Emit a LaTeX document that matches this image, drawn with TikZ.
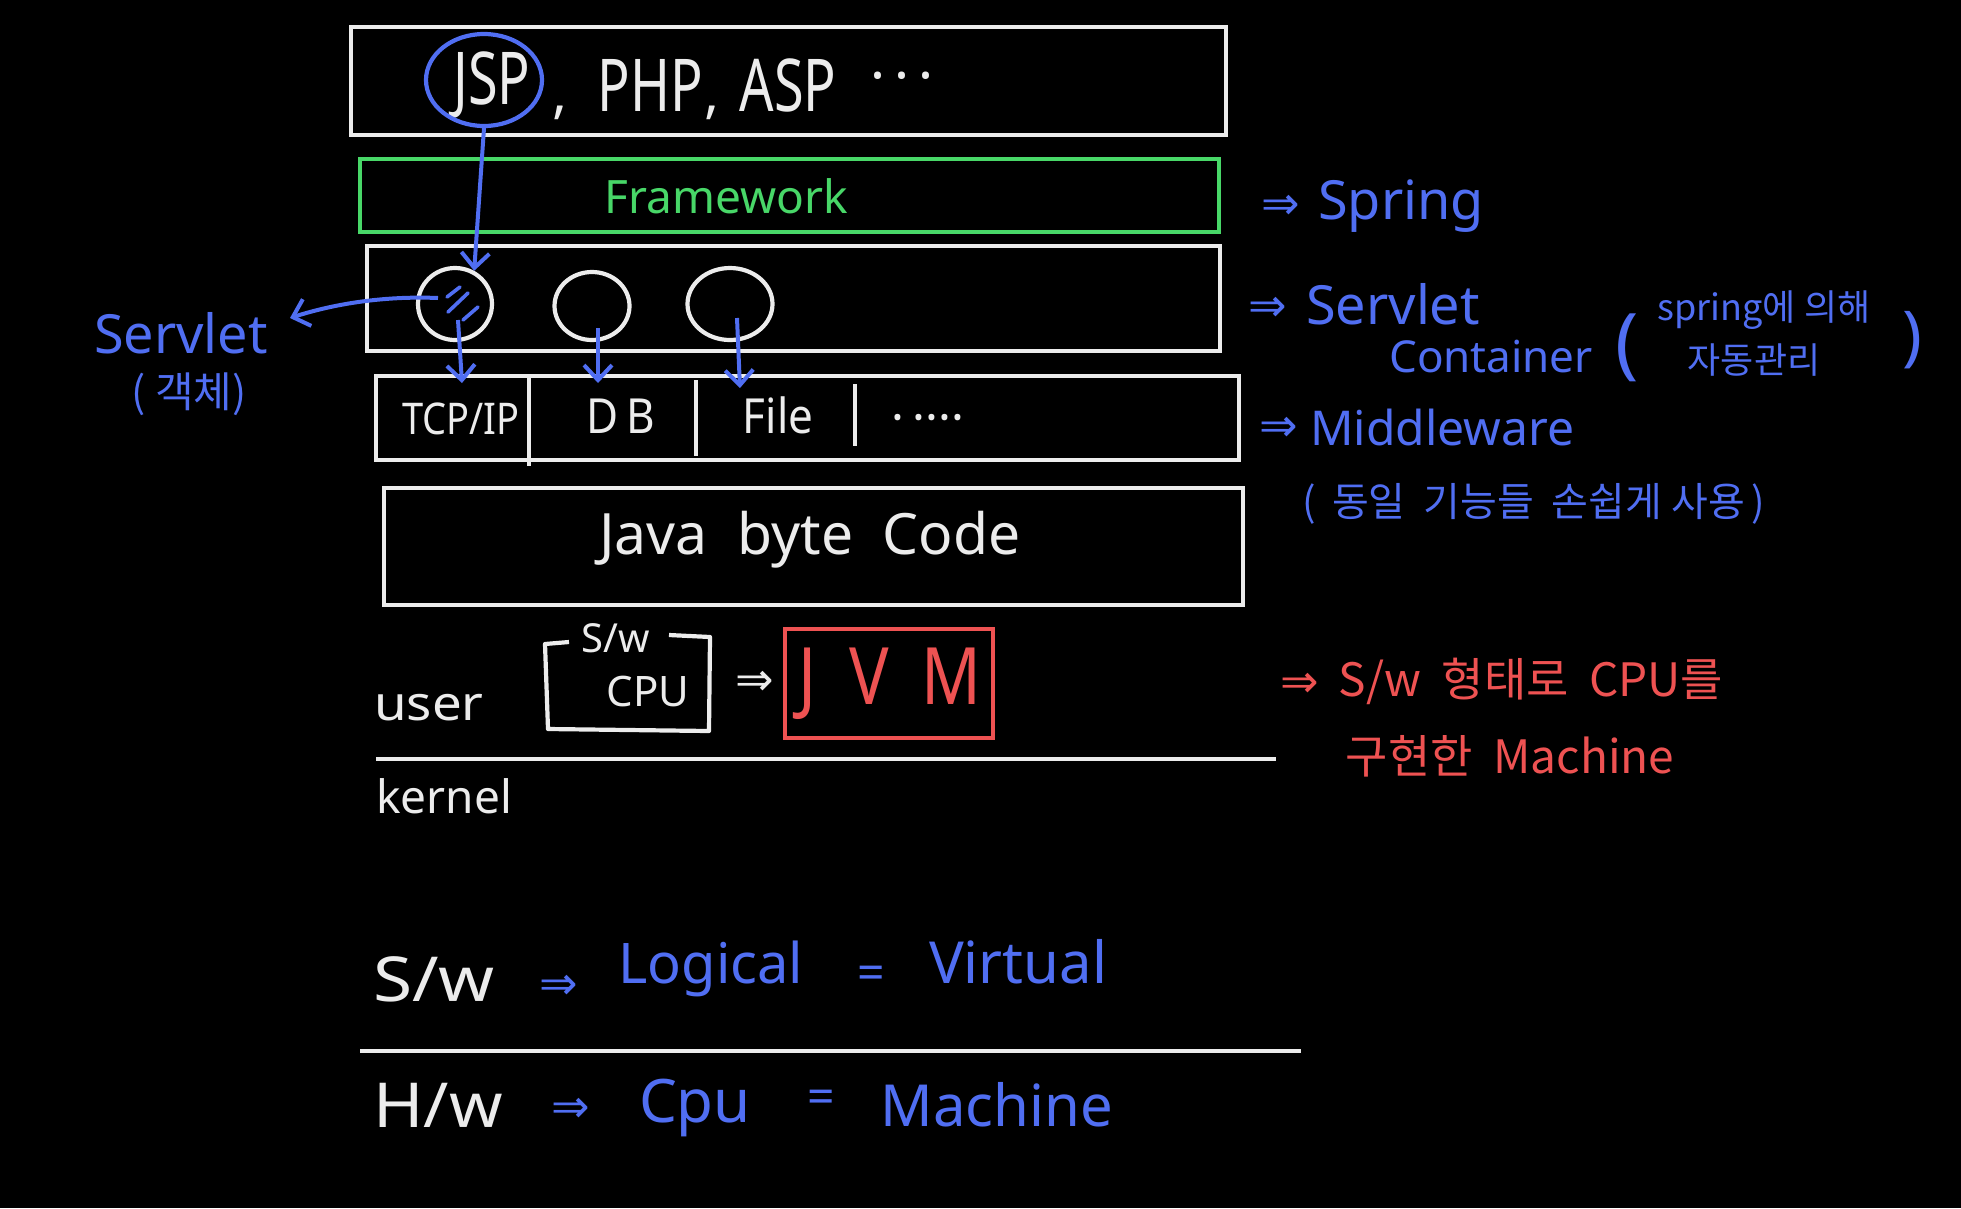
\documentclass[tikz,border=0pt]{standalone}
\usepackage{fontspec}
\setmainfont{Noto Sans}
\newfontfamily\kr{Noto Sans CJK KR}
\newfontfamily\djv{DejaVu Sans}
\usetikzlibrary{arrows.meta,shapes.geometric}
\definecolor{pblue}{RGB}{80,110,242}
\definecolor{pgreen}{RGB}{72,215,104}
\definecolor{pred}{RGB}{238,82,82}
\definecolor{pwhite}{RGB}{236,236,236}
\newcommand{\tall}[2][1.3]{\scalebox{1}[#1]{#2}}
\begin{document}
\begin{tikzpicture}[x=1pt,y=-1pt,
  box/.style={draw=pwhite,line width=4.4pt,inner sep=0pt},
  wt/.style={text=pwhite,inner sep=0pt},
  bt/.style={text=pblue,inner sep=0pt},
  rt/.style={text=pred,inner sep=0pt},
  gt/.style={text=pgreen,inner sep=0pt},
  fs/.style={font=\fontsize{#1}{#1}\selectfont},
  dbl/.style={inner sep=0pt,font=\djv\fontsize{#1}{#1}\selectfont},
  circ/.style={draw=pwhite,line width=4.2pt,ellipse,inner sep=0pt},
  wline/.style={draw=pwhite,line width=4.2pt},
  barrow/.style={draw=pblue,line width=4pt,-{Straight Barb[length=15pt,width=28pt,line width=4pt]}},
]
\fill[black] (0,0) rectangle (1961,1208);
\useasboundingbox (0,0) rectangle (1961,1208);

% layer boxes
\node[box,minimum width=875pt,minimum height=108pt] (top) at (788.5,81) {};
\node[box,draw=pgreen,minimum width=859pt,minimum height=73pt] (fw) at (789.5,195.5) {};
\node[box,minimum width=853pt,minimum height=105pt] (sc) at (793.5,298.5) {};
\node[box,minimum width=863pt,minimum height=84pt] (mw) at (807.5,418) {};
\node[box,minimum width=859pt,minimum height=117pt] (jb) at (813.5,546.5) {};

% top layer text
\node[wt,fs=54] (jsp) at (492,85) {\tall[1.35]{JSP}};
\node[wt,fs=56,anchor=base] (cm1) at (560,112) {,};
\node[wt,fs=54] (php) at (650,85) {\tall[1.35]{PHP}};
\node[wt,fs=56,anchor=base] (cm2) at (712,112) {,};
\node[wt,fs=54] (asp) at (788,85) {\tall[1.35]{ASP}};
\node[wt,fs=56] (dots) at (902,84) {·\,·\,·};
\node[circ,draw=pblue,minimum width=116pt,minimum height=92pt] (jspc) at (484,80) {};

% framework
\node[gt,fs=46] (fwt) at (726,196) {Framework};

% servlets
\node[circ,minimum width=74pt,minimum height=72pt] (c1) at (455,304) {};
\node[circ,minimum width=75pt,minimum height=68pt] (c2) at (592,306) {};
\node[circ,minimum width=85pt,minimum height=72pt] (c3) at (730,304) {};
\draw[pblue,line width=3.6pt,line cap=round]
  (447,297) -- (460,287)
  (448,312) -- (468,293)
  (463,320) -- (478,307);

\draw[barrow] (jspc.south) -- (c1.60);

% servlet label
\node[bt,fs=54] (svl) at (181,333) {Servlet};
\node[bt,font=\kr\fontsize{42}{42}\selectfont] (obj) at (189,394) {(\ 객체)};
\coordinate (svtip) at (290,318);
\draw[barrow] ([shift={(-17,-6)}]c1.center) .. controls (390,296) and (340,302) .. (svtip);

% middleware row
\node[wt,fs=38] (tcp) at (461,419) {\tall[1.15]{TCP/IP}};
\node[wt,fs=44] (db) at (621,416) {\tall[1.1]{D\,B}};
\node[wt,fs=44] (file) at (778,415) {\tall[1.1]{File}};
\node[wt,fs=48] (mdots) at (928,424) {·\,····};
\draw[wline] (529,377) -- (529,466);
\draw[wline] (696,380) -- (696,456);
\draw[wline] (855,384) -- (855,446);

\coordinate (t1) at (462,383);
\coordinate (t2) at (598,383);
\coordinate (t3) at (740,388);
\draw[barrow] ([shift={(3,16)}]c1.center) -- (t1);
\draw[barrow] ([shift={(6,22)}]c2.center) -- (t2);
\draw[barrow] ([shift={(7,14)}]c3.center) -- (t3);

% java byte code
\node[wt,fs=57] (jbt) at (810,540) {Java\ \ byte\ \ Code};

% user / JVM
\node[wt,fs=48] (user) at (429,708) {\scalebox{1.1}[1]{user}};
\draw[wline,line join=round] (569,642) -- (545,644) -- (548,729) -- (709,731) -- (710,637) -- (669,635);
\node[wt,fs=40] (sw) at (616,638) {S/w};
\node[wt,fs=42] (cpu) at (648,691) {CPU};
\node[dbl=46,text=pwhite] (arr) at (755,683) {⇒};
\node[box,draw=pred,minimum width=208pt,minimum height=109pt] (jvm) at (889,683.5) {};
\node[rt,fs=66] (jvmt) at (890,684) {\tall[1.2]{J\,\,\,V\,\,\,M}};
\draw[wline] (376,759) -- (1276,759);
\node[wt,fs=46] (kernel) at (444,796) {kernel};

% right annotations
\node[bt,dbl=46] (a1) at (1281,207) {⇒};
\node[bt,fs=54,anchor=west] (spring) at (1318,206) {Spring};
\node[bt,dbl=46] (a2) at (1268,309) {⇒};
\node[bt,fs=54,anchor=west] (servlet) at (1306,304) {Servlet};
\node[bt,fs=44,anchor=west] (cont) at (1389,356) {Container};
\node[bt,fs=78] (lp) at (1627,348) {(};
\node[bt,font=\kr\fontsize{36}{36}\selectfont] (auto1) at (1764,310) {spring에 의해};
\node[bt,font=\kr\fontsize{36}{36}\selectfont] (auto2) at (1754,360) {자동관리};
\node[bt,fs=66] (rp) at (1912,340) {)};
\node[bt,dbl=46] (a3) at (1279,429) {⇒};
\node[bt,fs=48,anchor=west] (mid) at (1310,427) {Middleware};
\node[bt,font=\kr\fontsize{40}{40}\selectfont] (same) at (1534,504) {(\, 동일\ \ 기능들\ \ 손쉽게\ 사용\,)};

\node[rt,dbl=46] (a4) at (1300,685) {⇒};
\node[rt,font=\kr\fontsize{46}{46}\selectfont] (jvmd1) at (1531,681) {S/w\ \ 형태로\ \ CPU를};
\node[rt,font=\kr\fontsize{46}{46}\selectfont] (jvmd2) at (1510,756) {구현한\ \ Machine};

% bottom comparison
\node[wt,fs=62] (swb) at (434,979) {\scalebox{1.15}[1]{S/w}};
\node[bt,dbl=46] (a5) at (559,987) {⇒};
\node[bt,fs=56] (logical) at (711,969) {Logical};
\node[bt,fs=48] (eq1) at (871,978) {=};
\node[bt,fs=58] (virtual) at (1018,962) {Virtual};
\draw[wline] (360,1051) -- (1301,1051);
\node[wt,fs=62] (hwb) at (438,1105) {\scalebox{1.1}[1]{H/w}};
\node[bt,dbl=46] (a6) at (571,1110) {⇒};
\node[bt,fs=60] (cpub) at (695,1108) {Cpu};
\node[bt,fs=48] (eq2) at (821,1102) {=};
\node[bt,fs=58] (machine) at (997,1105) {Machine};
\end{tikzpicture}
\end{document}
